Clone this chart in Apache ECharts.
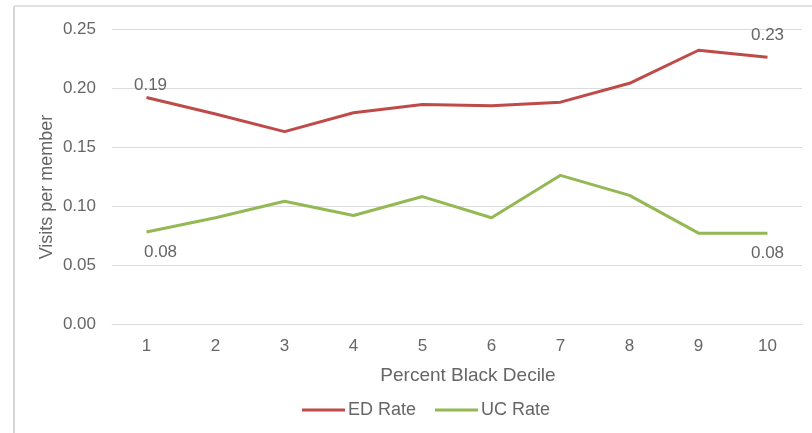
<!DOCTYPE html>
<html>
<head>
<meta charset="utf-8">
<script src="https://cdn.jsdelivr.net/npm/echarts@6/dist/echarts.min.js"></script>
<style>
  html, body { margin: 0; padding: 0; background: #ffffff; }
  #chart { position: absolute; left: 0; top: 0; width: 812px; height: 433px; }
</style>
</head>
<body>
<div id="chart"></div>
<script>
// Visits per member by percent-Black decile
const deciles = ['1', '2', '3', '4', '5', '6', '7', '8', '9', '10'];
const edRate = [0.192, 0.178, 0.163, 0.179, 0.186, 0.185, 0.188, 0.204, 0.232, 0.226];
const ucRate = [0.078, 0.090, 0.104, 0.092, 0.108, 0.090, 0.126, 0.109, 0.077, 0.077];
const yTicks = { min: 0, max: 0.25, interval: 0.05 };

const textColor = '#666666';
const fontFamily = '"Liberation Sans", Arial, sans-serif';

// value labels only on the first and last point of each line
function withEndLabels(values, firstLabel, lastLabel) {
  return values.map((v, i) => {
    if (i === 0) return { value: v, label: Object.assign({ show: true }, firstLabel) };
    if (i === values.length - 1) return { value: v, label: Object.assign({ show: true }, lastLabel) };
    return v;
  });
}

const labelBase = {
  color: textColor,
  fontFamily: fontFamily,
  fontSize: 17,
  formatter: p => Number(p.value).toFixed(2)
};

const chart = echarts.init(document.getElementById('chart'), null, { renderer: 'canvas' });

chart.setOption({
  animation: false,
  backgroundColor: '#ffffff',
  textStyle: { fontFamily: fontFamily, color: textColor },
  graphic: [
    { type: 'line', shape: { x1: 14, y1: 6, x2: 14, y2: 433 }, style: { stroke: '#d6d6d6', lineWidth: 2 } },
    { type: 'line', shape: { x1: 14, y1: 6, x2: 812, y2: 6 }, style: { stroke: '#e2e2e2', lineWidth: 2 } },
    {
      type: 'text',
      x: 47,
      y: 187,
      rotation: Math.PI / 2,
      style: {
        text: 'Visits per member',
        fill: textColor,
        font: '18px "Liberation Sans", Arial, sans-serif',
        align: 'center',
        verticalAlign: 'middle'
      }
    }
  ],
  grid: { left: 112, right: 10, top: 29, bottom: 109 },
  legend: {
    bottom: 9,
    left: 297,
    itemWidth: 43,
    itemHeight: 3,
    itemGap: 19,
    icon: 'rect',
    textStyle: { color: textColor, fontSize: 18, fontFamily: fontFamily, padding: [0, 0, 0, -2] },
    data: ['ED Rate', 'UC Rate']
  },
  xAxis: {
    type: 'category',
    data: deciles,
    boundaryGap: true,
    name: 'Percent Black Decile',
    nameLocation: 'middle',
    nameGap: 42,
    nameTextStyle: { color: textColor, fontSize: 19, fontFamily: fontFamily, padding: [0, 0, 0, 22] },
    axisLine: { show: true, lineStyle: { color: '#dcdcdc', width: 1 } },
    axisTick: { show: false },
    axisLabel: { color: textColor, fontSize: 17, margin: 14 }
  },
  yAxis: {
    type: 'value',
    min: yTicks.min,
    max: yTicks.max,
    interval: yTicks.interval,
    axisLine: { show: false },
    axisTick: { show: false },
    axisLabel: { color: textColor, fontSize: 17, margin: 16, formatter: v => v.toFixed(2) },
    splitLine: { lineStyle: { color: '#dcdcdc', width: 1 } }
  },
  series: [
    {
      name: 'ED Rate',
      type: 'line',
      data: withEndLabels(edRate,
        Object.assign({}, labelBase, { position: 'top', distance: 4, offset: [4, 0] }),
        Object.assign({}, labelBase, { position: 'top', distance: 14, offset: [0, 0] })),
      symbol: 'circle',
      symbolSize: 0,
      showSymbol: true,
      lineStyle: { color: '#be4b48', width: 3 },
      itemStyle: { color: '#be4b48' }
    },
    {
      name: 'UC Rate',
      type: 'line',
      data: withEndLabels(ucRate,
        Object.assign({}, labelBase, { position: 'bottom', distance: 12, offset: [14, 0] }),
        Object.assign({}, labelBase, { position: 'bottom', distance: 12, offset: [0, 0] })),
      symbol: 'circle',
      symbolSize: 0,
      showSymbol: true,
      lineStyle: { color: '#94b853', width: 3 },
      itemStyle: { color: '#94b853' }
    }
  ]
});
</script>
</body>
</html>
